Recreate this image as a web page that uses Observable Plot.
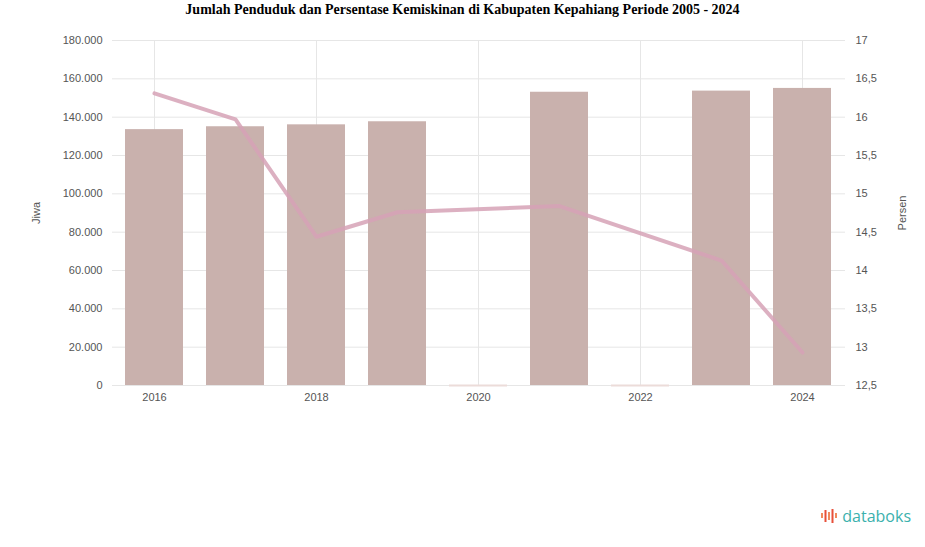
<!DOCTYPE html>
<html>
<head>
<meta charset="utf-8">
<script src="https://cdn.jsdelivr.net/npm/d3@7"></script>
<script src="https://cdn.jsdelivr.net/npm/@observablehq/plot@0.6"></script>
<style>
  body { margin: 0; background: #fff; width: 925px; height: 547px; position: relative; overflow: hidden; }
  #title { font-family: "Liberation Serif", serif; font-weight: bold; font-size: 14px; text-align: center; height: 22px; line-height: 20px; color: #000; }
  #logo { position: absolute; right: 14px; bottom: 20px; font-family: "Open Sans", sans-serif; font-size: 16px; color: #3bb1ad; display: flex; align-items: center; gap: 3px; }
</style>
</head>
<body>
<div id="title">Jumlah Penduduk dan Persentase Kemiskinan di Kabupaten Kepahiang Periode 2005 - 2024</div>
<div id="chart"></div>
<div id="logo"><svg width="18" height="16" viewBox="0 0 18 16"><rect x="0" y="5" width="2" height="5" fill="#f08a5d"/><rect x="3.5" y="2" width="2" height="12" fill="#e8503a"/><rect x="7" y="4" width="2" height="8" fill="#f08a5d"/><rect x="10.5" y="1" width="2" height="14" fill="#e8503a"/><rect x="14" y="5" width="2" height="5" fill="#f08a5d"/></svg><span>databoks</span></div>
<script>
const years = [2016, 2017, 2018, 2019, 2020, 2021, 2022, 2023, 2024];
const population = [133500, 135000, 136000, 137600, 0, 153000, 0, 153600, 155000];
const poverty = [16.31, 15.97, 14.44, 14.76, null, 14.84, null, 14.13, 12.93];
const xTicks = [2016, 2018, 2020, 2022, 2024];
const yTicks = [0, 20000, 40000, 60000, 80000, 100000, 120000, 140000, 160000, 180000];
const pctTicks = [12.5, 13, 13.5, 14, 14.5, 15, 15.5, 16, 16.5, 17];

const popDomain = [0, 180000];
const pctDomain = [12.5, 17];
const toY = d3.scaleLinear(pctDomain, popDomain);

const bars = years.map((y, i) => ({year: y, pop: population[i]}));
const line = years.map((y, i) => ({year: y, pct: poverty[i]})).filter(d => d.pct != null);

const fmtNum = d3.formatLocale({decimal: ",", thousands: ".", grouping: [3], currency: ["Rp", ""]});
const fmtPop = fmtNum.format(",.0f");
const fmtPct = d => fmtNum.format(",.1~f")(d);

const chart = Plot.plot({
  width: 925,
  height: 400,
  marginTop: 18,
  marginBottom: 37,
  marginLeft: 112,
  marginRight: 80,
  style: {fontFamily: "Liberation Sans, sans-serif", fontSize: "11px", color: "#555"},
  x: {type: "band", domain: years, paddingInner: 0.28, paddingOuter: 0.14, label: null},
  y: {domain: popDomain, label: null},
  marks: [
    Plot.ruleY(yTicks, {stroke: "#e6e6e6", strokeWidth: 1}),
    Plot.ruleX(xTicks, {x: d => d, stroke: "#e6e6e6", strokeWidth: 1}),
    Plot.barY(bars, {x: "year", y: "pop", fill: "#c9b1ad"}),
    Plot.tickY(bars.filter(d => d.pop === 0), {x: "year", y: "pop", stroke: "#ecdcd9", strokeWidth: 2}),
    Plot.line(line, {x: "year", y: d => toY(d.pct), stroke: "#d6a2b6", strokeWidth: 4, strokeOpacity: 0.85, strokeLinejoin: "round", curve: "linear"}),
    Plot.axisX({ticks: xTicks, tickFormat: d => String(d), tickSize: 0, tickPadding: 8, label: null, fill: "#555"}),
    Plot.axisY({ticks: yTicks, tickSize: 0, tickPadding: 10, tickFormat: fmtPop, label: "Jiwa", labelAnchor: "center", labelOffset: 80, labelArrow: "none", fill: "#555"}),
    Plot.axisY({anchor: "right", ticks: pctTicks.map(toY), tickSize: 0, tickPadding: 10, tickFormat: d => fmtPct(toY.invert(d)), label: "Persen", labelAnchor: "center", labelOffset: 60, labelArrow: "none", fill: "#555"})
  ]
});
document.getElementById("chart").appendChild(chart);
</script>
</body>
</html>
